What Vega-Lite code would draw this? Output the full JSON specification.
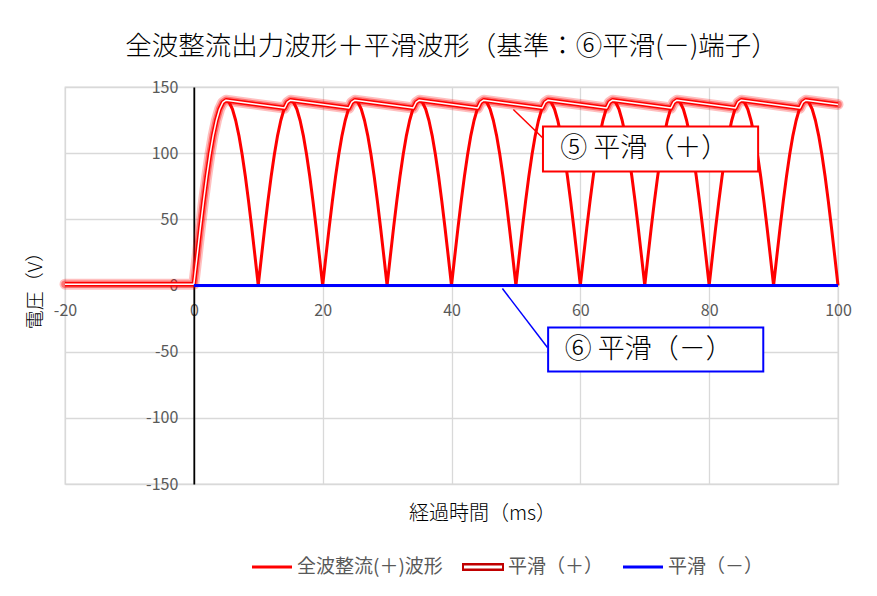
{
  "$schema": "https://vega.github.io/schema/vega-lite/v6.json",
  "width": 773,
  "height": 397,
  "autosize": {"type": "none"},
  "padding": {"left": 65, "top": 87, "right": 39, "bottom": 112},
  "background": "white",
  "title": {"text": "全波整流出力波形＋平滑波形（基準：⑥平滑(－)端子）", "fontSize": 26.5, "fontWeight": 300, "color": "#000000", "offset": 19, "anchor": "middle"},
  "config": {
    "font": "Noto Sans CJK JP",
    "view": {"stroke": "#d9d9d9", "strokeWidth": 1.3}
  },
  "datasets": {
    "full": [
      {"t":0,"v":0},{"t":0.5,"v":21.9},{"t":1,"v":43.3},{"t":1.5,"v":63.6},{"t":2,"v":82.3},{"t":2.5,"v":99},{"t":3,"v":113.3},{"t":3.5,"v":124.7},{"t":4,"v":133.2},{"t":4.5,"v":138.3},{"t":5,"v":140},{"t":5.5,"v":138.3},{"t":6,"v":133.2},{"t":6.5,"v":124.7},{"t":7,"v":113.3},{"t":7.5,"v":99},{"t":8,"v":82.3},{"t":8.5,"v":63.6},{"t":9,"v":43.3},{"t":9.5,"v":21.9},{"t":10,"v":0},
      {"t":10.5,"v":21.9},{"t":11,"v":43.3},{"t":11.5,"v":63.6},{"t":12,"v":82.3},{"t":12.5,"v":99},{"t":13,"v":113.3},{"t":13.5,"v":124.7},{"t":14,"v":133.2},{"t":14.5,"v":138.3},{"t":15,"v":140},{"t":15.5,"v":138.3},{"t":16,"v":133.2},{"t":16.5,"v":124.7},{"t":17,"v":113.3},{"t":17.5,"v":99},{"t":18,"v":82.3},{"t":18.5,"v":63.6},{"t":19,"v":43.3},{"t":19.5,"v":21.9},{"t":20,"v":0},
      {"t":20.5,"v":21.9},{"t":21,"v":43.3},{"t":21.5,"v":63.6},{"t":22,"v":82.3},{"t":22.5,"v":99},{"t":23,"v":113.3},{"t":23.5,"v":124.7},{"t":24,"v":133.2},{"t":24.5,"v":138.3},{"t":25,"v":140},{"t":25.5,"v":138.3},{"t":26,"v":133.2},{"t":26.5,"v":124.7},{"t":27,"v":113.3},{"t":27.5,"v":99},{"t":28,"v":82.3},{"t":28.5,"v":63.6},{"t":29,"v":43.3},{"t":29.5,"v":21.9},{"t":30,"v":0},
      {"t":30.5,"v":21.9},{"t":31,"v":43.3},{"t":31.5,"v":63.6},{"t":32,"v":82.3},{"t":32.5,"v":99},{"t":33,"v":113.3},{"t":33.5,"v":124.7},{"t":34,"v":133.2},{"t":34.5,"v":138.3},{"t":35,"v":140},{"t":35.5,"v":138.3},{"t":36,"v":133.2},{"t":36.5,"v":124.7},{"t":37,"v":113.3},{"t":37.5,"v":99},{"t":38,"v":82.3},{"t":38.5,"v":63.6},{"t":39,"v":43.3},{"t":39.5,"v":21.9},{"t":40,"v":0},
      {"t":40.5,"v":21.9},{"t":41,"v":43.3},{"t":41.5,"v":63.6},{"t":42,"v":82.3},{"t":42.5,"v":99},{"t":43,"v":113.3},{"t":43.5,"v":124.7},{"t":44,"v":133.2},{"t":44.5,"v":138.3},{"t":45,"v":140},{"t":45.5,"v":138.3},{"t":46,"v":133.2},{"t":46.5,"v":124.7},{"t":47,"v":113.3},{"t":47.5,"v":99},{"t":48,"v":82.3},{"t":48.5,"v":63.6},{"t":49,"v":43.3},{"t":49.5,"v":21.9},{"t":50,"v":0},
      {"t":50.5,"v":21.9},{"t":51,"v":43.3},{"t":51.5,"v":63.6},{"t":52,"v":82.3},{"t":52.5,"v":99},{"t":53,"v":113.3},{"t":53.5,"v":124.7},{"t":54,"v":133.2},{"t":54.5,"v":138.3},{"t":55,"v":140},{"t":55.5,"v":138.3},{"t":56,"v":133.2},{"t":56.5,"v":124.7},{"t":57,"v":113.3},{"t":57.5,"v":99},{"t":58,"v":82.3},{"t":58.5,"v":63.6},{"t":59,"v":43.3},{"t":59.5,"v":21.9},{"t":60,"v":0},
      {"t":60.5,"v":21.9},{"t":61,"v":43.3},{"t":61.5,"v":63.6},{"t":62,"v":82.3},{"t":62.5,"v":99},{"t":63,"v":113.3},{"t":63.5,"v":124.7},{"t":64,"v":133.2},{"t":64.5,"v":138.3},{"t":65,"v":140},{"t":65.5,"v":138.3},{"t":66,"v":133.2},{"t":66.5,"v":124.7},{"t":67,"v":113.3},{"t":67.5,"v":99},{"t":68,"v":82.3},{"t":68.5,"v":63.6},{"t":69,"v":43.3},{"t":69.5,"v":21.9},{"t":70,"v":0},
      {"t":70.5,"v":21.9},{"t":71,"v":43.3},{"t":71.5,"v":63.6},{"t":72,"v":82.3},{"t":72.5,"v":99},{"t":73,"v":113.3},{"t":73.5,"v":124.7},{"t":74,"v":133.2},{"t":74.5,"v":138.3},{"t":75,"v":140},{"t":75.5,"v":138.3},{"t":76,"v":133.2},{"t":76.5,"v":124.7},{"t":77,"v":113.3},{"t":77.5,"v":99},{"t":78,"v":82.3},{"t":78.5,"v":63.6},{"t":79,"v":43.3},{"t":79.5,"v":21.9},{"t":80,"v":0},
      {"t":80.5,"v":21.9},{"t":81,"v":43.3},{"t":81.5,"v":63.6},{"t":82,"v":82.3},{"t":82.5,"v":99},{"t":83,"v":113.3},{"t":83.5,"v":124.7},{"t":84,"v":133.2},{"t":84.5,"v":138.3},{"t":85,"v":140},{"t":85.5,"v":138.3},{"t":86,"v":133.2},{"t":86.5,"v":124.7},{"t":87,"v":113.3},{"t":87.5,"v":99},{"t":88,"v":82.3},{"t":88.5,"v":63.6},{"t":89,"v":43.3},{"t":89.5,"v":21.9},{"t":90,"v":0},
      {"t":90.5,"v":21.9},{"t":91,"v":43.3},{"t":91.5,"v":63.6},{"t":92,"v":82.3},{"t":92.5,"v":99},{"t":93,"v":113.3},{"t":93.5,"v":124.7},{"t":94,"v":133.2},{"t":94.5,"v":138.3},{"t":95,"v":140},{"t":95.5,"v":138.3},{"t":96,"v":133.2},{"t":96.5,"v":124.7},{"t":97,"v":113.3},{"t":97.5,"v":99},{"t":98,"v":82.3},{"t":98.5,"v":63.6},{"t":99,"v":43.3},{"t":99.5,"v":21.9},{"t":100,"v":0}
    ],
    "smooth": [
      {"t":-20,"v":1},{"t":0,"v":1},{"t":0.5,"v":21.9},{"t":1,"v":43.3},{"t":1.5,"v":63.6},{"t":2,"v":82.3},{"t":2.5,"v":99},{"t":3,"v":113.3},{"t":3.5,"v":124.7},{"t":4,"v":133.2},{"t":4.5,"v":138.3},{"t":5,"v":140},
      {"t":14.08,"v":134.1},{"t":14.5,"v":138.3},{"t":15,"v":140},
      {"t":24.08,"v":134.1},{"t":24.5,"v":138.3},{"t":25,"v":140},
      {"t":34.08,"v":134.1},{"t":34.5,"v":138.3},{"t":35,"v":140},
      {"t":44.08,"v":134.1},{"t":44.5,"v":138.3},{"t":45,"v":140},
      {"t":54.08,"v":134.1},{"t":54.5,"v":138.3},{"t":55,"v":140},
      {"t":64.08,"v":134.1},{"t":64.5,"v":138.3},{"t":65,"v":140},
      {"t":74.08,"v":134.1},{"t":74.5,"v":138.3},{"t":75,"v":140},
      {"t":84.08,"v":134.1},{"t":84.5,"v":138.3},{"t":85,"v":140},
      {"t":94.08,"v":134.1},{"t":94.5,"v":138.3},{"t":95,"v":140},
      {"t":100,"v":136.8}
    ],
    "minus": [{"t":0,"v":0},{"t":100,"v":0}],
    "calloutPlus": [{"x":54.2,"x2":87.6,"y":120.2,"y2":86.2,"tx":56.9,"ty":102.8,"lx":49.6,"ly":133,"lx2":54.1,"ly2":111.9,"label":"⑤ 平滑（＋）"}],
    "calloutMinus": [{"x":55.0,"x2":88.4,"y":-31.7,"y2":-65,"tx":57.6,"ty":-49.1,"lx":47.9,"ly":-2.3,"lx2":54.9,"ly2":-46.9,"label":"⑥ 平滑（－）"}]
  },
  "layer": [
    {
      "data": {"name": "full"},
      "mark": {"type": "line", "strokeWidth": 3, "strokeJoin": "round"},
      "encoding": {
        "x": {
          "field": "t", "type": "quantitative",
          "scale": {"domain": [-20, 100], "nice": false, "zero": false},
          "axis": {
            "values": [-20, 0, 20, 40, 60, 80, 100],
            "offset": -198.5, "domain": false, "ticks": false,
            "labelPadding": 17, "labelFontSize": 16, "labelColor": "#595959",
            "labelExpr": "replace(datum.label, '−', '-')",
            "labelFlush": false, "labelOverlap": false, "labelBound": false,
            "grid": true, "gridColor": "#d9d9d9", "gridWidth": 1.3,
            "title": "経過時間（ms）", "titleFontSize": 20, "titleFontWeight": 300, "titleColor": "#000000",
            "titleX": 417, "titleY": 227.5, "titleBaseline": "middle", "titleAlign": "center"
          }
        },
        "y": {
          "field": "v", "type": "quantitative",
          "scale": {"domain": [-150, 150], "nice": false, "zero": false},
          "axis": {
            "values": [-150, -100, -50, 0, 50, 100, 150],
            "offset": -128.8, "domain": true, "domainColor": "#000000", "domainWidth": 1.8, "ticks": false,
            "labelPadding": 16, "labelFontSize": 16, "labelColor": "#595959",
            "labelExpr": "replace(datum.label, '−', '-')",
            "labelOverlap": false, "labelBound": false, "labelFlush": false,
            "grid": true, "gridColor": "#d9d9d9", "gridWidth": 1.3,
            "title": "電圧（V）", "titleFontSize": 19, "titleFontWeight": 300, "titleColor": "#000000",
            "titleX": -158, "titleY": 198.5, "titleAngle": 270, "titleBaseline": "middle", "titleAlign": "center"
          }
        },
        "color": {
          "datum": "全波整流(＋)波形", "type": "nominal",
          "scale": {"domain": ["全波整流(＋)波形", "平滑（＋）", "平滑（－）"], "range": ["#ff0000", "#ff0000", "#0000ff"]},
          "legend": {
            "orient": "none", "legendX": 187, "legendY": 460, "direction": "horizontal", "title": null,
            "labelFontSize": 19, "labelColor": "#595959", "labelOffset": 5, "columnPadding": 19,
            "symbolType": "M-1,-0.075H1V0.075H-1Z", "symbolSize": 1600,
            "encode": {
              "symbols": {
                "update": {
                  "shape": {"signal": "datum.value === '平滑（＋）' ? 'M-1.05,-0.2H1.05V0.2H-1.05ZM-0.95,-0.07V0.07H0.95V-0.07Z' : 'M-1,-0.075H1V0.075H-1Z'"},
                  "fill": {"signal": "datum.value === '平滑（＋）' ? '#c00000' : (datum.value === '平滑（－）' ? '#0000ff' : '#ff0000')"},
                  "stroke": {"value": "transparent"},
                  "strokeWidth": {"value": 0},
                  "opacity": {"value": 1}
                }
              }
            }
          }
        }
      }
    },
    {
      "data": {"name": "smooth"},
      "mark": {"type": "line", "color": "#ff0000", "opacity": 0.25, "strokeWidth": 11, "strokeJoin": "round", "strokeCap": "round"},
      "encoding": {"x": {"field": "t", "type": "quantitative"}, "y": {"field": "v", "type": "quantitative"}}
    },
    {
      "data": {"name": "smooth"},
      "mark": {"type": "line", "color": "#ff0000", "opacity": 0.4, "strokeWidth": 7.5, "strokeJoin": "round", "strokeCap": "round"},
      "encoding": {"x": {"field": "t", "type": "quantitative"}, "y": {"field": "v", "type": "quantitative"}}
    },
    {
      "data": {"name": "smooth"},
      "mark": {"type": "line", "strokeWidth": 4.5, "strokeJoin": "round"},
      "encoding": {
        "x": {"field": "t", "type": "quantitative"},
        "y": {"field": "v", "type": "quantitative"},
        "color": {"datum": "平滑（＋）", "type": "nominal"}
      }
    },
    {
      "data": {"name": "smooth"},
      "mark": {"type": "line", "color": "#ffffff", "strokeWidth": 1.5, "strokeJoin": "round"},
      "encoding": {"x": {"field": "t", "type": "quantitative"}, "y": {"field": "v", "type": "quantitative"}}
    },
    {
      "data": {"name": "minus"},
      "mark": {"type": "line", "strokeWidth": 3},
      "encoding": {
        "x": {"field": "t", "type": "quantitative"},
        "y": {"field": "v", "type": "quantitative"},
        "color": {"datum": "平滑（－）", "type": "nominal"}
      }
    },
    {
      "data": {"name": "calloutPlus"},
      "mark": {"type": "rule", "color": "#ff0000", "strokeWidth": 1.5},
      "encoding": {"x": {"field": "lx", "type": "quantitative"}, "y": {"field": "ly", "type": "quantitative"}, "x2": {"field": "lx2"}, "y2": {"field": "ly2"}}
    },
    {
      "data": {"name": "calloutPlus"},
      "mark": {"type": "rect", "fill": "#ffffff", "stroke": "#ff0000", "strokeWidth": 2},
      "encoding": {"x": {"field": "x", "type": "quantitative"}, "x2": {"field": "x2"}, "y": {"field": "y", "type": "quantitative"}, "y2": {"field": "y2"}}
    },
    {
      "data": {"name": "calloutPlus"},
      "mark": {"type": "text", "align": "left", "baseline": "middle", "fontSize": 27, "fontWeight": 300, "color": "#000000"},
      "encoding": {"x": {"field": "tx", "type": "quantitative"}, "y": {"field": "ty", "type": "quantitative"}, "text": {"field": "label"}}
    },
    {
      "data": {"name": "calloutMinus"},
      "mark": {"type": "rule", "color": "#0000ff", "strokeWidth": 1.5},
      "encoding": {"x": {"field": "lx", "type": "quantitative"}, "y": {"field": "ly", "type": "quantitative"}, "x2": {"field": "lx2"}, "y2": {"field": "ly2"}}
    },
    {
      "data": {"name": "calloutMinus"},
      "mark": {"type": "rect", "fill": "#ffffff", "stroke": "#0000ff", "strokeWidth": 2},
      "encoding": {"x": {"field": "x", "type": "quantitative"}, "x2": {"field": "x2"}, "y": {"field": "y", "type": "quantitative"}, "y2": {"field": "y2"}}
    },
    {
      "data": {"name": "calloutMinus"},
      "mark": {"type": "text", "align": "left", "baseline": "middle", "fontSize": 27, "fontWeight": 300, "color": "#000000"},
      "encoding": {"x": {"field": "tx", "type": "quantitative"}, "y": {"field": "ty", "type": "quantitative"}, "text": {"field": "label"}}
    }
  ]
}
